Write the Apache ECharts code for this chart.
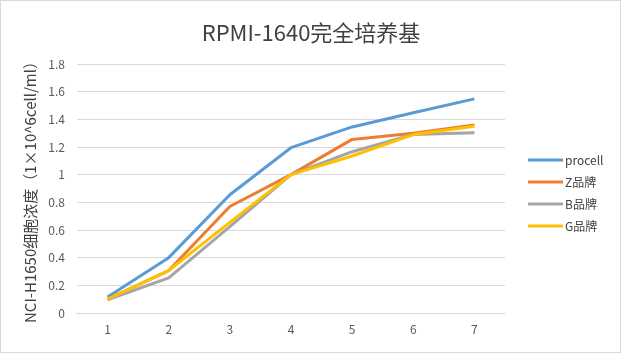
<!DOCTYPE html>
<html>
<head>
<meta charset="utf-8">
<script src="https://cdn.jsdelivr.net/npm/echarts@6/dist/echarts.min.js"></script>
<style>
html,body{margin:0;padding:0;background:#fff;}
#chart{width:619px;height:351px;border:1px solid #d9d9d9;}
</style>
</head>
<body>
<div id="chart"></div>
<script>
var days = ['1', '2', '3', '4', '5', '6', '7'];
var procell = [0.115, 0.40, 0.855, 1.195, 1.345, 1.447, 1.548];
var zBrand = [0.10, 0.307, 0.77, 1.0, 1.255, 1.30, 1.36];
var bBrand = [0.096, 0.254, 0.624, 1.0, 1.166, 1.29, 1.303];
var gBrand = [0.10, 0.307, 0.655, 1.0, 1.135, 1.29, 1.35];

var font = '"Noto Sans CJK SC", "Noto Sans", sans-serif';
var myChart = echarts.init(document.getElementById('chart'));
function mk(name, data, color) {
    return {name: name, type: 'line', data: data, symbol: 'none', smooth: false,
        lineStyle: {width: 3, color: color}, itemStyle: {color: color}};
}
myChart.setOption({
    animation: false,
    title: {text: 'RPMI-1640完全培养基', left: 305, top: 16, textAlign: 'center',
        textStyle: {fontSize: 22, fontWeight: 'normal', color: '#404040', fontFamily: font}},
    legend: {orient: 'vertical', left: 522, top: 148, itemWidth: 35, itemHeight: 3, itemGap: 10,
        icon: 'rect', textStyle: {fontSize: 12, color: '#404040', fontFamily: font, padding: [0, 0, 0, -3]},
        data: ['procell', 'Z品牌', 'B品牌', 'G品牌']},
    grid: {left: 76, right: 115, top: 63, bottom: 39},
    xAxis: {type: 'category', data: days, boundaryGap: true,
        axisLine: {lineStyle: {color: '#d9d9d9'}}, axisTick: {show: false},
        axisLabel: {color: '#595959', fontSize: 12, margin: 10, fontFamily: font}},
    yAxis: {type: 'value', min: 0, max: 1.8, interval: 0.2,
        name: 'NCI-H1650细胞浓度（1×10^6cell/ml）', nameLocation: 'middle', nameGap: 33,
        nameTextStyle: {color: '#404040', fontSize: 15, fontFamily: font},
        axisLine: {show: false}, axisTick: {show: false},
        axisLabel: {color: '#595959', fontSize: 12, margin: 12, fontFamily: font,
            formatter: function (v) { return String(Math.round(v * 10) / 10); }},
        splitLine: {lineStyle: {color: '#d9d9d9'}}},
    series: [
        mk('procell', procell, '#5b9bd5'),
        mk('Z品牌', zBrand, '#ed7d31'),
        mk('B品牌', bBrand, '#a5a5a5'),
        mk('G品牌', gBrand, '#ffc000')
    ]
});
</script>
</body>
</html>
